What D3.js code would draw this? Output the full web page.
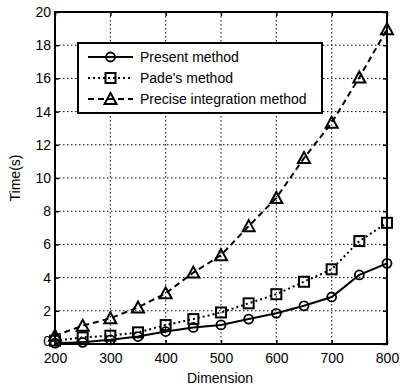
<!DOCTYPE html>
<html><head><meta charset="utf-8">
<script src="https://cdn.jsdelivr.net/npm/d3@7"></script>
<style>body{margin:0;background:#fff}svg{display:block}</style>
</head><body>
<svg id="c" width="408" height="387"></svg>
<script>
const dims = [200,250,300,350,400,450,500,550,600,650,700,750,800];
const present = [0.05,0.1,0.25,0.45,0.75,1.0,1.15,1.5,1.85,2.3,2.83,4.16,4.86];
const pade = [0.2,0.4,0.5,0.7,1.14,1.5,1.9,2.45,3.0,3.75,4.5,6.2,7.3];
const precise = [0.5,1.1,1.55,2.2,3.05,4.3,5.35,7.1,8.8,11.2,13.33,16.06,18.96];
const xTicks = [200,300,400,500,600,700,800];
const yTicks = [0,2,4,6,8,10,12,14,16,18,20];
const seriesNames = ["Present method","Pade's method","Precise integration method"];

const svg = d3.select("#c");
const L=55,R=387,T=12,B=344;
const x = d3.scaleLinear().domain([200,800]).range([L,R]);
const y = d3.scaleLinear().domain([0,20]).range([B,T]);
const font = "Liberation Sans, Arial, sans-serif";

// grid
const g = svg.append("g");
g.selectAll(".gx").data(xTicks.slice(1,-1)).enter().append("line")
 .attr("x1",d=>x(d)).attr("x2",d=>x(d)).attr("y1",T).attr("y2",B)
 .attr("stroke","#000").attr("stroke-width",1).attr("stroke-dasharray","1.5,2.5");
g.selectAll(".gy").data(yTicks.slice(1,-1)).enter().append("line")
 .attr("y1",d=>y(d)).attr("y2",d=>y(d)).attr("x1",L).attr("x2",R)
 .attr("stroke","#000").attr("stroke-width",1).attr("stroke-dasharray","1.5,2.5");

// axes with inward ticks
const ax = svg.append("g").attr("transform",`translate(0,${B})`)
 .call(d3.axisBottom(x).tickValues(xTicks).tickSize(-4).tickPadding(9).tickFormat(d3.format("d")));
const axT = svg.append("g").attr("transform",`translate(0,${T})`)
 .call(d3.axisTop(x).tickValues(xTicks).tickSize(-4).tickFormat(""));
const ay = svg.append("g").attr("transform",`translate(${L},0)`)
 .call(d3.axisLeft(y).tickValues(yTicks).tickSize(-4).tickPadding(4));
const ayR = svg.append("g").attr("transform",`translate(${R},0)`)
 .call(d3.axisRight(y).tickValues(yTicks).tickSize(-4).tickFormat(""));
[ax,axT,ay,ayR].forEach(a=>{
  a.select(".domain").remove();
  a.selectAll(".tick line").attr("stroke","#000").attr("stroke-width",1.5);
  a.selectAll("text").attr("font-family",font).attr("font-size",14).attr("fill","#000");
});
ay.selectAll(".tick").filter(d=>d===0).select("text").attr("dy","0.1em");
svg.append("rect").attr("x",L).attr("y",T).attr("width",R-L).attr("height",B-T)
 .attr("fill","none").attr("stroke","#000").attr("stroke-width",2);

// series
const line = d3.line().x((d,i)=>x(dims[i])).y(d=>y(d));
const styles = [
 {data:present, dash:null, marker:"circle"},
 {data:pade, dash:"2,3", marker:"square"},
 {data:precise, dash:"6,4", marker:"triangle"}
];
function marker(sel, type){
  if(type==="circle"){
    sel.append("circle").attr("r",4.5).attr("fill","none").attr("stroke","#000").attr("stroke-width",1.8);
  } else if(type==="square"){
    sel.append("rect").attr("x",-5).attr("y",-5).attr("width",10).attr("height",10)
     .attr("fill","none").attr("stroke","#000").attr("stroke-width",2);
  } else {
    sel.append("path").attr("d","M0,-6L6,5L-6,5Z").attr("fill","none").attr("stroke","#000").attr("stroke-width",2);
  }
}
styles.forEach(s=>{
  svg.append("path").datum(s.data).attr("d",line).attr("fill","none").attr("stroke","#000")
   .attr("stroke-width",2).attr("stroke-dasharray",s.dash);
  s.data.forEach((v,i)=>{
    const m = svg.append("g").attr("transform",`translate(${x(dims[i])},${y(v)})`);
    marker(m,s.marker);
  });
});

// legend
const lg = svg.append("g");
lg.append("rect").attr("x",78).attr("y",43).attr("width",244).attr("height",70)
 .attr("fill","#fff").attr("stroke","#000").attr("stroke-width",2);
seriesNames.forEach((n,i)=>{
  const yy = 57 + i*21;
  lg.append("line").attr("x1",88).attr("x2",133).attr("y1",yy).attr("y2",yy)
   .attr("stroke","#000").attr("stroke-width",2).attr("stroke-dasharray",styles[i].dash);
  const m = lg.append("g").attr("transform",`translate(110.5,${yy})`);
  marker(m,styles[i].marker);
  lg.append("text").attr("x",140).attr("y",yy+5).text(n)
   .attr("font-family",font).attr("font-size",14).attr("fill","#000");
});

// axis titles
svg.append("text").attr("x",220).attr("y",383).attr("text-anchor","middle").text("Dimension")
 .attr("font-family",font).attr("font-size",14);
svg.append("text").attr("transform","translate(20,178) rotate(-90)").attr("text-anchor","middle").text("Time(s)")
 .attr("font-family",font).attr("font-size",14);
</script>
</body></html>
